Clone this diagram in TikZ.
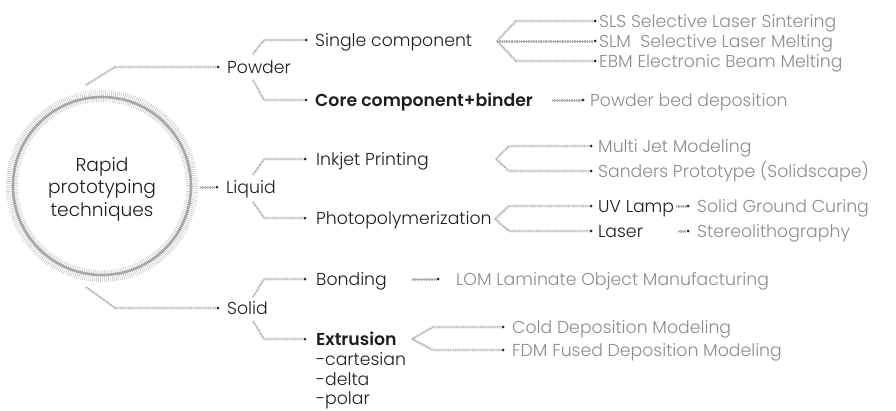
\documentclass[tikz,border=0pt]{standalone}
\usepackage{fontspec}
\setmainfont{Poppins}[UprightFont=* Light, BoldFont=* SemiBold]
\definecolor{leafc}{HTML}{8C8C8C}
\definecolor{midc}{HTML}{1E1E1E}
\definecolor{hatchc}{HTML}{A0A0A0}
\definecolor{ringc}{HTML}{A8A8A8}
\definecolor{tickc}{HTML}{C2C2C2}
\begin{document}
\begin{tikzpicture}[x=1pt,y=-1pt,
  hatch/.style={draw=hatchc, line width=0.6pt,
    postaction={draw=hatchc!75, line width=3pt, dash pattern=on 0.4pt off 1.3pt}},
  dotn/.style={circle, fill=black!85, inner sep=0pt, minimum size=3pt},
  lbl/.style={anchor=west, inner sep=0pt, text height=13.5pt, text depth=0pt,
    font=\fontsize{17.3}{20}\selectfont},
  midl/.style={lbl, text=midc},
  leafl/.style={lbl, text=leafc}]
\useasboundingbox (0,0) rectangle (896,410);
% root circle
\node[circle, minimum size=180pt, inner sep=0pt] (root) at (102,186) {};
\draw[tickc, line width=12pt, dash pattern=on 0.5pt off 1.4pt] (root.center) circle (90);
\draw[ringc, line width=2.6pt] (root.center) circle (89);
\node[align=center, text=midc, font=\fontsize{18.6}{22.5}\selectfont] (roottxt) at (102,189)
  {Rapid\\prototyping\\techniques};
% level 1
\coordinate (pw0) at (86,85); \coordinate (pw1) at (115,67);
\node[dotn] (pwd) at (218,67) {};
\node[midl] (pw) at (227,67) {Powder};
\coordinate (lq0) at (200,187);
\node[dotn] (lqd) at (217,187) {};
\node[midl] (lq) at (226,187) {Liquid};
\coordinate (so0) at (86,287); \coordinate (so1) at (115,308);
\node[dotn] (sod) at (218,308) {};
\node[midl] (so) at (227,308) {Solid};
\draw[hatch] (pw0) -- (pw1) -- (pwd);
\draw[hatch] (lq0) -- (lqd);
\draw[hatch] (so0) -- (so1) -- (sod);
% powder children
\coordinate (pwa0) at (253,54); \coordinate (pwa1) at (264,40);
\node[dotn] (scd) at (306,40) {};
\node[midl] (sc) at (315,40) {Single component};
\coordinate (pwb0) at (253,80); \coordinate (pwb1) at (264,100);
\node[dotn] (cbd) at (306,100) {};
\node[midl] (cb) at (315,100) {\bfseries Core component+binder};
\draw[hatch] (pwa0) -- (pwa1) -- (scd);
\draw[hatch] (pwb0) -- (pwb1) -- (cbd);
% single component leaves
\coordinate (scf) at (497,41);
\coordinate (sls1) at (516,21); \node[dotn] (slsd) at (595,21) {};
\node[leafl] (sls) at (599,21) {SLS Selective Laser Sintering};
\node[dotn] (slmd) at (595,41) {};
\node[leafl] (slm) at (599,41) {SLM\ \ Selective Laser Melting};
\coordinate (ebm1) at (516,61); \node[dotn] (ebmd) at (595,61) {};
\node[leafl] (ebm) at (599,61) {EBM Electronic Beam Melting};
\draw[hatch] (scf) -- (sls1) -- (slsd);
\draw[hatch] (scf) -- (slmd);
\draw[hatch] (scf) -- (ebm1) -- (ebmd);
% core -> powder bed
\coordinate (pb0) at (552,100); \node[dotn] (pbd) at (583,100) {};
\node[leafl] (pb) at (590,100) {Powder bed deposition};
\draw[hatch] (pb0) -- (pbd);
% liquid children
\coordinate (lqa0) at (253,175); \coordinate (lqa1) at (264,159);
\node[dotn] (ijd) at (305,159) {};
\node[midl] (ij) at (316,159) {Inkjet Printing};
\coordinate (lqb0) at (253,202); \coordinate (lqb1) at (264,218);
\node[dotn] (ppd) at (305,218) {};
\node[midl] (pp) at (316,218) {Photopolymerization};
\draw[hatch] (lqa0) -- (lqa1) -- (ijd);
\draw[hatch] (lqb0) -- (lqb1) -- (ppd);
% inkjet leaves
\coordinate (ijf) at (496,159);
\coordinate (mj1) at (509,146); \node[dotn] (mjd) at (591,146) {};
\node[leafl] (mj) at (598,146) {Multi Jet Modeling};
\coordinate (sp1) at (509,171); \node[dotn] (spd) at (591,171) {};
\node[leafl] (sp) at (598,171) {Sanders Prototype (Solidscape)};
\draw[hatch] (ijf) -- (mj1) -- (mjd);
\draw[hatch] (ijf) -- (sp1) -- (spd);
% photopolymerization children
\coordinate (ppf) at (495,219);
\coordinate (uv1) at (509,206); \node[dotn] (uvd) at (591,206) {};
\node[midl] (uv) at (598,206) {UV Lamp};
\coordinate (la1) at (509,231); \node[dotn] (lad) at (591,231) {};
\node[midl] (la) at (598,231) {Laser};
\draw[hatch] (ppf) -- (uv1) -- (uvd);
\draw[hatch] (ppf) -- (la1) -- (lad);
\coordinate (sg0) at (676,206); \node[dotn] (sgd) at (688,206) {};
\node[leafl] (sg) at (697,206) {Solid Ground Curing};
\coordinate (st0) at (678,231); \node[dotn] (std) at (688,231) {};
\node[leafl] (st) at (697,231) {Stereolithography};
\draw[hatch] (sg0) -- (sgd);
\draw[hatch] (st0) -- (std);
% solid children
\coordinate (soa0) at (253,297); \coordinate (soa1) at (264,279);
\node[dotn] (bod) at (305,279) {};
\node[midl] (bo) at (316,279) {Bonding};
\coordinate (sob0) at (253,321); \coordinate (sob1) at (264,339);
\node[dotn] (exd) at (305,339) {};
\node[midl] (ex) at (316,339) {\bfseries Extrusion};
\node[midl] (ex1) at (316,359) {-cartesian};
\node[midl] (ex2) at (316,378.5) {-delta};
\node[midl] (ex3) at (316,398) {-polar};
\draw[hatch] (soa0) -- (soa1) -- (bod);
\draw[hatch] (sob0) -- (sob1) -- (exd);
% bonding -> LOM
\coordinate (lo0) at (412,279); \node[dotn] (lod) at (438,279) {};
\node[leafl] (lo) at (456,279) {LOM Laminate Object Manufacturing};
\draw[hatch] (lo0) -- (lod);
% extrusion leaves
\coordinate (exf) at (412,339);
\coordinate (cd1) at (433,327); \node[dotn] (cdd) at (503,327) {};
\node[leafl] (cd) at (512,327) {Cold Deposition Modeling};
\coordinate (fd1) at (433,350); \node[dotn] (fdd) at (503,350) {};
\node[leafl] (fd) at (512,350) {FDM Fused Deposition Modeling};
\draw[hatch] (exf) -- (cd1) -- (cdd);
\draw[hatch] (exf) -- (fd1) -- (fdd);
\end{tikzpicture}
\end{document}
